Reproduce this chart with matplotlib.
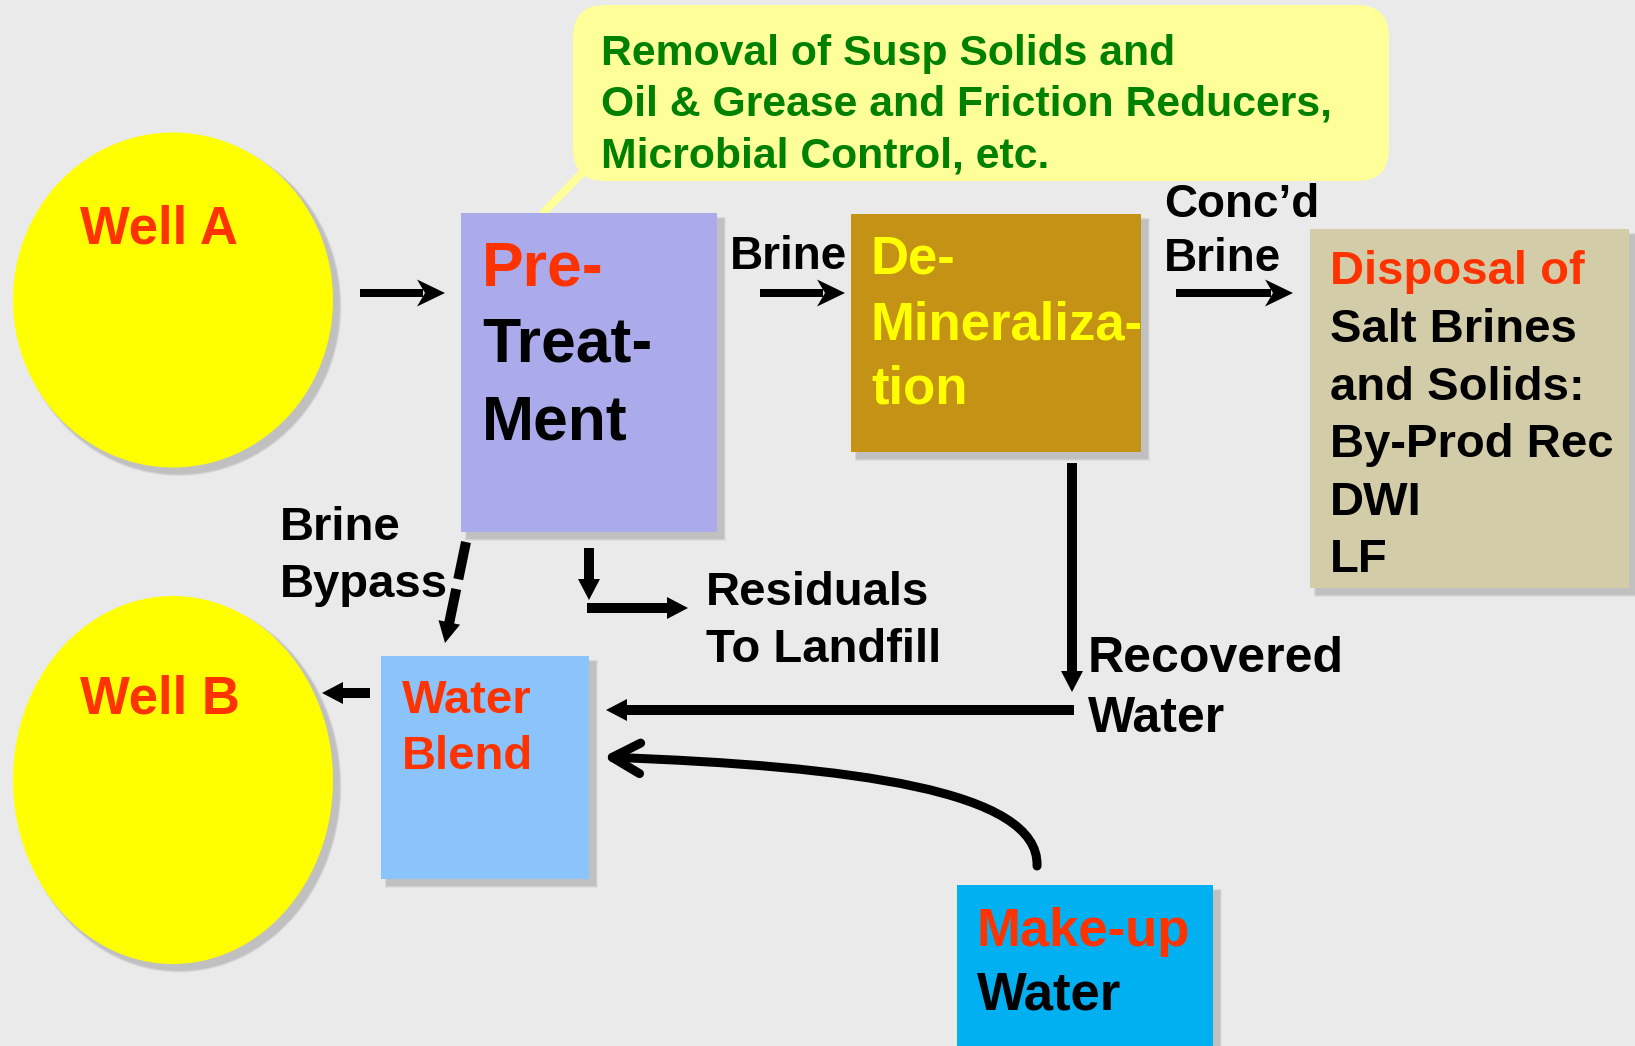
import matplotlib
matplotlib.use('Agg')
import matplotlib.pyplot as plt
from matplotlib.patches import Rectangle, Ellipse, FancyBboxPatch, FancyArrowPatch, Polygon
from matplotlib.path import Path
import numpy as np

plt.rcParams['font.family'] = ['Liberation Sans', 'DejaVu Sans']

BG = '#EAEAEA'
RED = '#FF3300'

# boxes: (x, y, w, h, colour)   pixel layout, y down
boxes = {
    'pre':      (461, 213, 256, 319, '#ABABEB'),
    'demin':    (851, 214, 290, 238, '#C49214'),
    'disposal': (1310, 229, 319, 359, '#D3CCA8'),
    'blend':    (381, 656, 208, 223, '#8AC4FB'),
    'makeup':   (957, 885, 256, 170, '#00B0F0'),
}
wells = [('Well A', 173, 300, 320, 335), ('Well B', 173, 780, 320, 368)]

callout_lines = ['Removal of Susp Solids and',
                 'Oil & Grease and Friction Reducers,',
                 'Microbial Control, etc.']

# text: (x, baseline, text, size, colour)
texts = [
    (80, 244, 'Well A', 38, RED),
    (80, 713, 'Well B', 38, RED),
    (482, 285, 'Pre-', 45, RED),
    (482, 362, 'Treat-', 45, 'black'),
    (482, 439, 'Ment', 45, 'black'),
    (871, 274, 'De-', 38, '#FFFF00'),
    (871, 340, 'Mineraliza-', 38, '#FFFF00'),
    (871, 404, 'tion', 38, '#FFFF00'),
    (1330, 284, 'Disposal of', 34, RED),
    (1330, 342, 'Salt Brines', 34, 'black'),
    (1330, 400, 'and Solids:', 34, 'black'),
    (1330, 457, 'By-Prod Rec', 34, 'black'),
    (1330, 515, 'DWI', 34, 'black'),
    (1330, 572, 'LF', 34, 'black'),
    (402, 713, 'Water', 34, RED),
    (402, 769, 'Blend', 34, RED),
    (977, 946, 'Make-up', 38, RED),
    (977, 1010, 'Water', 38, 'black'),
    (730, 269, 'Brine', 33, 'black'),
    (1164, 217, 'Conc\u2019d', 33, 'black'),
    (1164, 271, 'Brine', 33, 'black'),
    (280, 540, 'Brine', 34, 'black'),
    (280, 597, 'Bypass', 34, 'black'),
    (706, 605, 'Residuals', 34, 'black'),
    (706, 662, 'To Landfill', 34, 'black'),
    (1088, 672, 'Recovered', 36, 'black'),
    (1088, 732, 'Water', 36, 'black'),
]

# stealth arrows: (x0, x1, y)
stealth = [(360, 445, 293), (760, 845, 293), (1176, 1293, 293)]
# block arrows: (x0, y0, x1, y1, dashed)
block = [
    (1072, 463, 1072, 692, False),
    (1074, 710, 606, 710, False),
    (466, 542, 445, 643, True),
    (589, 548, 589, 600, False),
    (587, 608, 688, 608, False),
    (370, 693, 322, 693, False),
]
curve_pts = [(1037, 866), (1040, 790), (850, 766), (603, 757)]

fig = plt.figure(figsize=(16.35, 10.46), dpi=100, facecolor=BG)
ax = fig.add_axes([0, 0, 1, 1])
ax.set_xlim(0, 1635)
ax.set_ylim(1046, 0)
ax.set_facecolor(BG)
ax.axis('off')
PT = 0.72  # points per pixel


def shadow(patch_fn, off=6):
    for k in [5, 4, 3, 2, 1]:
        ax.add_patch(patch_fn(off, k))


# wells
for name, cx, cy, w, h in wells:
    shadow(lambda o, k: Ellipse((cx + o, cy + o), w + k, h + k, color='#505050', alpha=0.06, lw=0))
    ax.add_patch(Ellipse((cx, cy), w, h, color='#FFFF00', lw=0))

# callout
ax.plot([585, 542], [170, 214], color='#FFFF99', lw=8 * PT, solid_capstyle='butt', zorder=1)
ax.add_patch(FancyBboxPatch((573, 5), 816, 176, boxstyle='round,pad=0,rounding_size=32',
                            color='#FFFF99', lw=0, zorder=2))
for i, line in enumerate(callout_lines):
    ax.text(601, 65 + i * 51, line, fontsize=30.8, fontweight='bold', color='#008000',
            va='baseline', zorder=3)

# boxes
for key, (x, y, w, h, c) in boxes.items():
    shadow(lambda o, k: Rectangle((x + o - k / 2, y + o - k / 2), w + k, h + k,
                                  color='#505050', alpha=0.06, lw=0, zorder=2))
    ax.add_patch(Rectangle((x, y), w, h, color=c, lw=0, zorder=2))

for x, y, s, fs, c in texts:
    ax.text(x, y, s, fontsize=fs, fontweight='bold', color=c, va='baseline', ha='left', zorder=5)


def head(x1, y1, ux, uy, hw, hl, notch=0):
    px, py = -uy, ux
    bx, by = x1 - ux * hl, y1 - uy * hl
    pts = [(x1, y1), (bx + px * hw / 2, by + py * hw / 2),
           (bx + ux * notch, by + uy * notch), (bx - px * hw / 2, by - py * hw / 2)]
    ax.add_patch(Polygon(pts, closed=True, color='black', lw=0, zorder=4))


for x0, x1, y in stealth:
    ax.plot([x0, x1 - 22], [y, y], color='black', lw=8 * PT, solid_capstyle='butt', zorder=4)
    head(x1, y, 1, 0, 27, 28, notch=8)

for x0, y0, x1, y1, dashed in block:
    d = np.hypot(x1 - x0, y1 - y0)
    ux, uy = (x1 - x0) / d, (y1 - y0) / d
    ex, ey = x1 - ux * 19, y1 - uy * 19
    if dashed:
        ax.plot([x0, ex], [y0, ey], color='black', lw=10 * PT, solid_capstyle='butt',
                dash_capstyle='butt', dashes=(3.8, 1.0), zorder=4)
    else:
        ax.plot([x0, ex], [y0, ey], color='black', lw=10 * PT, solid_capstyle='butt', zorder=4)
    head(x1, y1, ux, uy, 22, 21)

path = Path(curve_pts, [Path.MOVETO, Path.CURVE4, Path.CURVE4, Path.CURVE4])
arr = FancyArrowPatch(path=path, arrowstyle='->,head_length=20,head_width=11',
                      color='black', lw=9 * PT, capstyle='round', joinstyle='round',
                      shrinkA=0, shrinkB=0, zorder=4)
ax.add_patch(arr)

fig.savefig('out.png', dpi=100, facecolor=BG)
